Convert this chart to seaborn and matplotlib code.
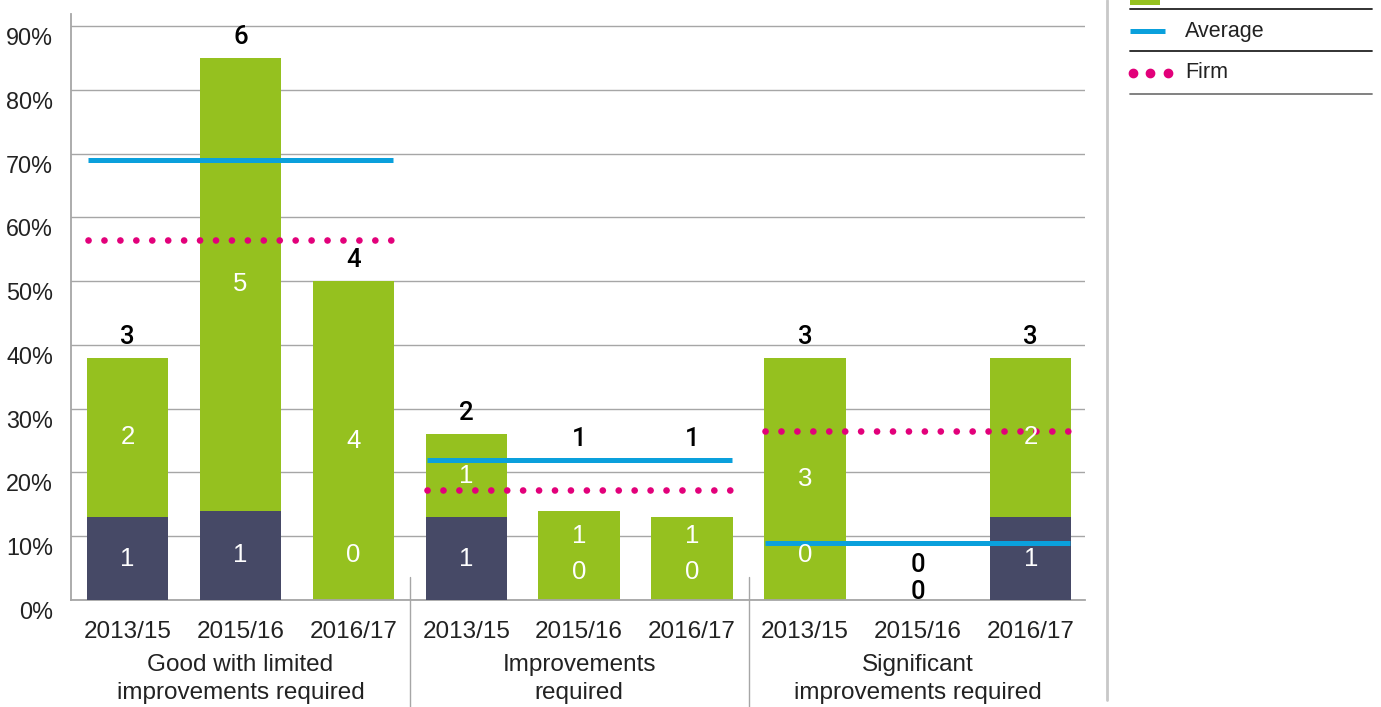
import numpy as np
import pandas as pd
import matplotlib
matplotlib.use('Agg')
import matplotlib.pyplot as plt
import matplotlib.transforms as mtransforms
from matplotlib.lines import Line2D
from matplotlib.patches import Rectangle
import seaborn as sns

# ==========================================
# data
# ==========================================
groups = ['Good with limited\nimprovements required', 'Improvements\nrequired',
          'Significant\nimprovements required']
years = ['2013/15', '2015/16', '2016/17']

# bar heights (% of inspections)
total_pct = [38, 85, 50, 26, 14, 13, 38, 0, 38]
dark_pct = [13, 14, 0, 13, 0, 0, 0, 0, 13]

# counts shown on the bars
total_n = [3, 6, 4, 2, 1, 1, 3, 0, 3]
green_n = [2, 5, 4, 1, 1, 1, 3, 0, 2]
dark_n = [1, 1, 0, 1, 0, 0, 0, 0, 1]

# reference lines per group
average_pct = [69, 22, 9]
firm_pct = [56.4, 17.3, 26.5]

GREEN = '#95C11F'
NAVY = '#464966'
BLUE = '#0AA0DC'
PINK = '#E2007A'
GRID = '#A6A6A6'
TXT = '#222222'

sns.set_theme(style='white')
plt.rcParams['font.family'] = ['Liberation Sans', 'DejaVu Sans']

keys = [f'{g}|{y}' for g in groups for y in years]
df = pd.DataFrame({'key': keys, 'total': total_pct, 'dark': dark_pct})

fig = plt.figure(figsize=(13.81, 7.07), dpi=100)
ax = fig.add_axes([71 / 1381, 1 - 600 / 707, (1085 - 71) / 1381, (600 - 14) / 707])

sns.barplot(data=df, x='key', y='total', order=keys, color=GREEN, saturation=1,
            width=0.72, linewidth=0, ax=ax, zorder=2)
sns.barplot(data=df, x='key', y='dark', order=keys, color=NAVY, saturation=1,
            width=0.72, linewidth=0, ax=ax, zorder=3)

ax.set_xlim(-0.5, 8.48)
ax.set_ylim(0, 91.9)
ax.set_yticks(np.arange(0, 91, 10))
ax.yaxis.set_major_formatter(matplotlib.ticker.FuncFormatter(lambda v, p: f'{v:.0f}%'))
ax.grid(axis='y', color=GRID, lw=1, zorder=0)
ax.set_axisbelow(True)
for s in ['top', 'right']:
    ax.spines[s].set_visible(False)
for s in ['left', 'bottom']:
    ax.spines[s].set_color(GRID)
    ax.spines[s].set_linewidth(1.3)
ax.set_xlabel('')
ax.set_ylabel('')
ax.tick_params(axis='y', length=0, pad=13, labelsize=16.8, labelcolor=TXT)
ax.tick_params(axis='x', length=0, pad=15, labelsize=17.5, labelcolor=TXT)
ax.set_xticks(range(len(keys)))
ax.set_xticklabels(years * len(groups))
off = mtransforms.ScaledTranslation(0, -10 / 100, fig.dpi_scale_trans)
for lab in ax.get_yticklabels():
    lab.set_transform(lab.get_transform() + off)

# bar labels
LBL = 18.5
BLK = dict(fontsize=LBL, color='black', family=['Roboto', 'Liberation Sans'],
           fontweight='medium', ha='center', va='center', zorder=5)
WHT = dict(fontsize=LBL, color='white', ha='center', va='center', zorder=5)
for i in range(len(keys)):
    d, t = dark_pct[i], total_pct[i]
    gi = i // 3
    if t == 0:
        ax.text(i, 1.3, str(green_n[i]), **BLK)
        ax.text(i, 5.5, str(total_n[i]), **BLK)
        continue
    dy = d / 2 if d > 0 else 7
    gy = (d + t) / 2
    if abs(gy - dy) < 6:
        gy, dy = dy + 3, dy - 2.6
    ax.text(i, dy, str(dark_n[i]), **WHT)
    ax.text(i, gy, str(green_n[i]), **WHT)
    # total above the bar, pushed over any reference line it would sit on
    ty = t + 3.3
    for ln in sorted([firm_pct[gi], average_pct[gi]]):
        if abs(ty - ln) < 2.8:
            ty = ln + 3.3
    ax.text(i, ty, str(total_n[i]), **BLK)

# average / firm lines
for gi in range(len(groups)):
    x0, x1 = gi * 3 - 0.35, gi * 3 + 2 + 0.35
    ax.plot([x0, x1], [average_pct[gi]] * 2, color=BLUE, lw=3.6,
            solid_capstyle='butt', zorder=4)
    ax.plot([x0, x1], [firm_pct[gi]] * 2, color=PINK, lw=4.8,
            linestyle=(0, (0.01, 2.38)), dash_capstyle='round', zorder=4)

# group labels and separators
tr = mtransforms.blended_transform_factory(ax.transData, fig.transFigure)
for gi, g in enumerate(groups):
    ax.text(gi * 3 + 1, 1 - 679 / 707, g, transform=tr, ha='center', va='center',
            fontsize=17.5, color=TXT, linespacing=1.35)
for xs in [2.5, 5.5]:
    ax.add_line(Line2D([xs, xs], [1 - 577 / 707, 0], transform=tr, color=GRID,
                       lw=1, clip_on=False))

# legend panel
fx = lambda px: px / 1381
fy = lambda py: 1 - py / 707
fig.add_artist(Line2D([fx(1107)] * 2, [fy(0), fy(700)], color='#C8C8C8', lw=2))
for py, c in [(9, '#222222'), (51, '#222222'), (94, '#777777')]:
    fig.add_artist(Line2D([fx(1130), fx(1372)], [fy(py)] * 2, color=c, lw=1.3))
fig.add_artist(Rectangle((fx(1130), fy(5)), fx(30), 5 / 707, color=GREEN, lw=0))
fig.add_artist(Line2D([fx(1130), fx(1165)], [fy(31)] * 2, color=BLUE, lw=3.6,
                      solid_capstyle='butt'))
fig.add_artist(Line2D([fx(1133), fx(1150), fx(1168)], [fy(73)] * 3, color=PINK,
                      lw=0, marker='o', markersize=6))
fig.text(fx(1185), fy(31), 'Average', ha='left', va='center', fontsize=15.5, color=TXT)
fig.text(fx(1185), fy(73), 'Firm', ha='left', va='center', fontsize=15.5, color=TXT)

fig.savefig('out.png', dpi=100)
